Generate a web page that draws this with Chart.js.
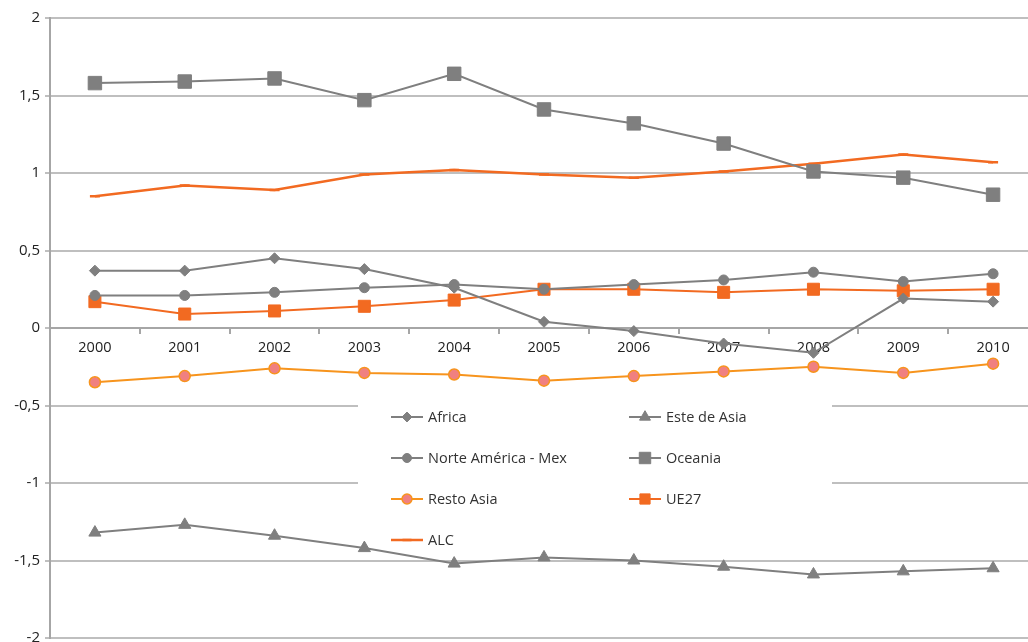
<!DOCTYPE html>
<html>
<head>
<meta charset="utf-8">
<script src="https://cdn.jsdelivr.net/npm/chart.js@4/dist/chart.umd.min.js"></script>
<style>
  html, body { margin: 0; padding: 0; background: #fff; overflow: hidden; }
  #wrap { width: 1028px; height: 642px; overflow: hidden; position: relative; }
  #chart { position: absolute; left: 0; top: 0; }
</style>
</head>
<body>
<div id="wrap"><canvas id="chart" width="1040" height="642"></canvas></div>
<script>
// años
const years = ['2000', '2001', '2002', '2003', '2004', '2005', '2006', '2007', '2008', '2009', '2010'];

// series
const africa     = [0.37, 0.37, 0.45, 0.38, 0.26, 0.04, -0.02, -0.10, -0.16, 0.19, 0.17];
const esteAsia   = [-1.32, -1.27, -1.34, -1.42, -1.52, -1.48, -1.50, -1.54, -1.59, -1.57, -1.55];
const norteAm    = [0.21, 0.21, 0.23, 0.26, 0.28, 0.25, 0.28, 0.31, 0.36, 0.30, 0.35];
const oceania    = [1.58, 1.59, 1.61, 1.47, 1.64, 1.41, 1.32, 1.19, 1.01, 0.97, 0.86];
const restoAsia  = [-0.35, -0.31, -0.26, -0.29, -0.30, -0.34, -0.31, -0.28, -0.25, -0.29, -0.23];
const ue27       = [0.17, 0.09, 0.11, 0.14, 0.18, 0.25, 0.25, 0.23, 0.25, 0.24, 0.25];
const alc        = [0.85, 0.92, 0.89, 0.99, 1.02, 0.99, 0.97, 1.01, 1.06, 1.12, 1.07];

const GRAY = '#7f7f7f';
const ORANGE = '#f26a21';
const YELLOW = '#f7941d';
const PINK = '#f08080';
const FONT = '"Open Sans", "Noto Sans", sans-serif';

function serie(label, data, color, style, radius, extra) {
    return Object.assign({
        label: label,
        data: data,
        borderColor: color,
        backgroundColor: color,
        borderWidth: 2,
        pointStyle: style,
        pointRadius: radius,
        pointHoverRadius: radius,
        pointBorderWidth: 1,
        pointBorderColor: color,
        pointBackgroundColor: color,
        tension: 0
    }, extra || {});
}

// leyenda dibujada dentro del área del gráfico, sobre una caja blanca
const legendBox = {
    id: 'legendBox',
    beforeDatasetsDraw(chart) {
        const ctx = chart.ctx;
        ctx.save();
        ctx.fillStyle = '#ffffff';
        ctx.fillRect(358, 396, 474, 158);

        const cols = [391, 629];
        const rows = [417, 458, 499, 540];
        ctx.font = '14.5px ' + FONT;
        ctx.textBaseline = 'middle';
        chart.data.datasets.forEach(function (ds, i) {
            const x = cols[i % 2];
            const y = rows[Math.floor(i / 2)];
            ctx.strokeStyle = ds.borderColor;
            ctx.lineWidth = ds.borderWidth;
            ctx.beginPath();
            ctx.moveTo(x, y);
            ctx.lineTo(x + 32, y);
            ctx.stroke();
            ctx.fillStyle = ds.pointBackgroundColor;
            ctx.strokeStyle = ds.pointBorderColor;
            ctx.lineWidth = ds.pointBorderWidth;
            Chart.helpers.drawPoint(ctx, {
                pointStyle: ds.pointStyle,
                radius: ds.pointStyle === 'rect' ? ds.pointRadius * 0.85 : ds.pointRadius * 0.9,
                rotation: 0,
                borderWidth: ds.pointBorderWidth
            }, x + 16, y);
            ctx.fillStyle = '#333333';
            ctx.fillText(ds.label, x + 37, y + 1);
        });
        ctx.restore();
    }
};

const datasets = [
    serie('Africa', africa, GRAY, 'rectRot', 5.5),
    serie('Este de Asia', esteAsia, GRAY, 'triangle', 7),
    serie('Norte América - Mex', norteAm, GRAY, 'circle', 5),
    serie('Oceania', oceania, GRAY, 'rect', 9.5),
    serie('Resto Asia', restoAsia, YELLOW, 'circle', 5.5, { pointBackgroundColor: PINK, pointBorderColor: YELLOW, pointBorderWidth: 1.5 }),
    serie('UE27', ue27, ORANGE, 'rect', 8.5),
    serie('ALC', alc, ORANGE, 'line', 5, { borderWidth: 2.5, pointBorderWidth: 2.5 })
];

new Chart(document.getElementById('chart'), {
    type: 'line',
    data: { labels: years, datasets: datasets },
    plugins: [legendBox],
    options: {
        responsive: false,
        animation: false,
        layout: {
            autoPadding: false,
            padding: { top: 18, bottom: 4, left: 0, right: 2 }
        },
        plugins: {
            legend: { display: false },
            tooltip: { enabled: false }
        },
        scales: {
            x: {
                position: { y: 0 },
                offset: true,
                grid: {
                    offset: true,
                    drawOnChartArea: false,
                    tickLength: 5,
                    color: '#a6a6a6',
                    lineWidth: 2
                },
                border: { color: '#a6a6a6', width: 2 },
                ticks: {
                    padding: 6,
                    color: '#222',
                    font: { family: FONT, size: 14.5 },
                    maxRotation: 0
                }
            },
            y: {
                min: -2,
                max: 2,
                afterFit(scale) {
                    scale.width = 50;
                    scale.paddingTop = 0;
                    scale.paddingBottom = 0;
                },
                grid: {
                    color: '#bfbfbf',
                    lineWidth: 2,
                    tickLength: 5
                },
                border: { color: '#a6a6a6', width: 2 },
                ticks: {
                    stepSize: 0.5,
                    padding: 5,
                    color: '#222',
                    font: { family: FONT, size: 15 },
                    callback: function (v) { return String(v).replace('.', ','); }
                }
            }
        }
    }
});
</script>
</body>
</html>
